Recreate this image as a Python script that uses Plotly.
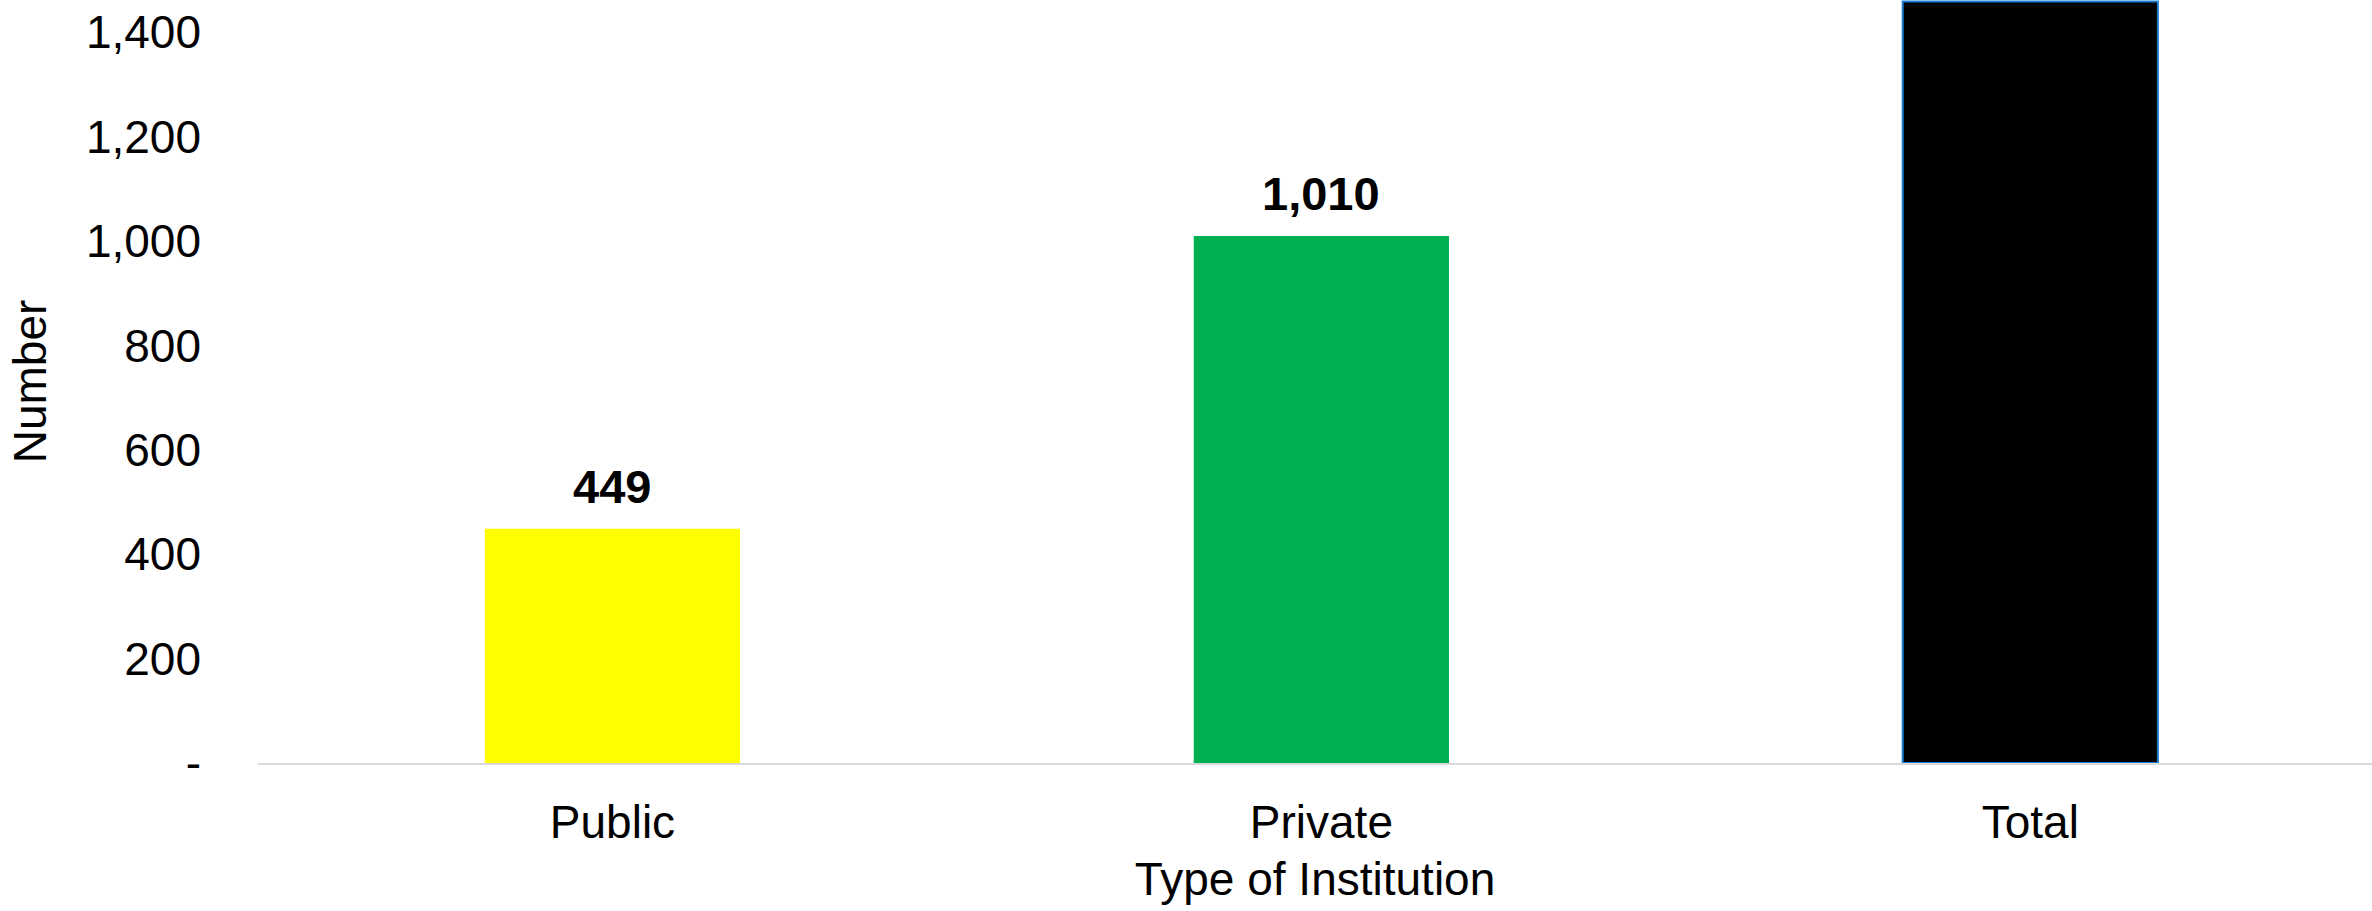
import plotly.graph_objects as go

categories = ["Public", "Private", "Total"]
values = [449, 1010, 1459]
bar_colors = ["#FFFF00", "#00B050", "#000000"]
line_colors = ["#FFFF00", "#00B050", "#1C80D6"]
labeled = ["Public", "Private"]

tick_vals = [0, 200, 400, 600, 800, 1000, 1200, 1400]
tick_text = ["-", "200", "400", "600", "800", "1,000", "1,200", "1,400"]

FONT = "Liberation Sans, Arial, sans-serif"

fig = go.Figure()
fig.add_bar(
    x=categories,
    y=values,
    width=0.36,
    marker=dict(color=bar_colors, line=dict(color=line_colors, width=[0, 0, 2])),
)

# value labels above the bars (Total label sits outside the visible area)
for cat, val in zip(categories, values):
    if cat in labeled:
        fig.add_annotation(
            x=cat, y=val, text=f"<b>{val:,}</b>", showarrow=False,
            yanchor="bottom", yshift=14,
            font=dict(family=FONT, size=47, color="#000000"),
        )

fig.update_layout(
    width=2372,
    height=911,
    margin=dict(l=258, r=0, t=0, b=148),
    plot_bgcolor="white",
    paper_bgcolor="white",
    font=dict(family=FONT, size=46, color="#000000"),
    showlegend=False,
)
fig.update_xaxes(
    range=[-0.5, 2.482],
    automargin=False,
    showgrid=False,
    showline=True,
    linecolor="#D9D9D9",
    linewidth=2,
    ticks="",
    ticklabelstandoff=18,
    title=dict(text="Type of Institution", font=dict(size=46), standoff=16),
)
fig.update_yaxes(
    range=[0, 1462],
    automargin=False,
    showgrid=False,
    zeroline=False,
    showline=False,
    tickvals=tick_vals,
    ticktext=tick_text,
    ticks="",
    ticklabelstandoff=56,
    title=dict(text="Number", font=dict(size=46), standoff=24),
)

# drop the default page margin so the chart fills the window
fig.write_html(
    "out.html",
    config={"displayModeBar": False},
    post_script="document.body.style.margin='0';",
)
